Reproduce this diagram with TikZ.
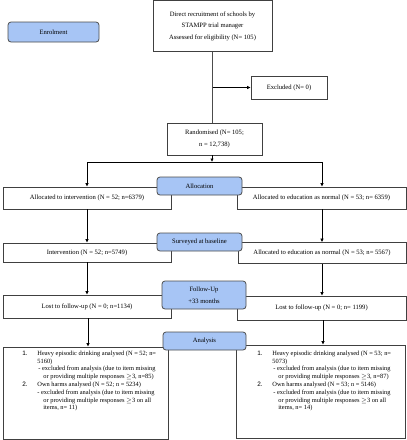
\documentclass[tikz,border=0pt]{standalone}
\usepackage{fontspec}
\setmainfont{Liberation Serif}
\newfontfamily\numfont{Liberation Sans}
\usetikzlibrary{arrows.meta}
\definecolor{stageblue}{HTML}{A7C5F5}
\begin{document}
\begin{tikzpicture}[x=1pt,y=-1pt,
	>={Latex[length=3.5pt,width=3.5pt]},
	every path/.style={line width=0.8pt},
	box/.style={draw=black!75, fill=white, inner sep=1pt, align=center, font=\fontsize{6.6}{11.5}\selectfont},
	stage/.style={draw=black!70, fill=stageblue, rounded corners=3pt, inner sep=1pt, align=center, font=\fontsize{6.6}{12}\selectfont},
	listtext/.style={inner sep=0pt, align=left, font=\fontsize{6.4}{7.8}\selectfont}]
		\useasboundingbox (0,0) rectangle (407,440);
		
		\node (recruit) at (212.5,26) [box, minimum width=119pt, minimum height=51pt] {Direct recruitment of schools by\\STAMPP trial manager\\Assessed for eligibility (N= 105)};
		\node (enrol) at (53.5,32) [stage, minimum width=91pt, minimum height=20pt] {Enrolment};
		\node (excl) at (289,87.5) [box, minimum width=76pt, minimum height=23pt] {Excluded (N= 0)};
		\node (rand) at (214.5,139) [box, minimum width=95pt, minimum height=32pt] {Randomised (N= 105;\\n = 12,738)};
		\coordinate (split) at (212,162);
		\coordinate (splitL) at (87,162);
		\coordinate (splitR) at (322,162);
		
		\node (allocL) at (87,198) [box, minimum width=168pt, minimum height=22pt] {Allocated to intervention (N = 52; n=6379)};
		\node (allocR) at (321.5,198) [box, minimum width=169pt, minimum height=22pt] {Allocated to education as normal (N = 53; n= 6359)};
		\node (survL) at (87,252.5) [box, minimum width=168pt, minimum height=19pt] {Intervention (N = 52; n=5749)};
		\node (survR) at (322,253) [box, minimum width=168pt, minimum height=21pt] {Allocated to education as normal (N = 53; n= 5567)};
		\node (lostL) at (87,306.5) [box, minimum width=168pt, minimum height=23pt] {Lost to follow-up (N = 0; n=1134)};
		\node (lostR) at (321.5,308) [box, minimum width=169pt, minimum height=24pt] {Lost to follow-up (N = 0; n= 1199)};
		\node (anaL) at (85.5,393) [box, minimum width=165pt, minimum height=92pt] {};
		\node (anaR) at (320.5,391.5) [box, minimum width=169pt, minimum height=93pt] {};
		
		\node (anaLtxt) at (22,350.5) [listtext, anchor=north west] {\makebox[15pt][l]{\numfont 1.}Heavy episodic drinking analysed (N = 52; n=\\
			\hspace*{15pt}5160)\\
			\hspace*{16pt}- excluded from analysis (due to item missing\\
			\hspace*{21pt}or providing multiple responses $\geq$3, n=85)\\
			\makebox[15pt][l]{\numfont 2.}Own harms analysed (N = 52; n = 5234)\\
			\hspace*{15pt}- excluded from analysis (due to item missing\\
			\hspace*{21pt}or providing multiple responses $\geq$3 on all\\
			\hspace*{21pt}items, n= 11)};
		\node (anaRtxt) at (257,350.5) [listtext, anchor=north west] {\makebox[15pt][l]{\numfont 1.}Heavy episodic drinking analysed (N = 53; n=\\
			\hspace*{15pt}5073)\\
			\hspace*{16pt}- excluded from analysis (due to item missing\\
			\hspace*{21pt}or providing multiple responses $\geq$3, n=87)\\
			\makebox[15pt][l]{\numfont 2.}Own harms analysed (N = 53; n = 5146)\\
			\hspace*{16pt}- excluded from analysis (due to item missing\\
			\hspace*{21pt}or providing multiple responses $\geq$3 on all\\
			\hspace*{21pt}items, n= 14)};
		
		\node (alloc) at (199.5,186) [stage, minimum width=85pt, minimum height=18pt] {Allocation};
		\node (surv) at (199.5,242) [stage, minimum width=85pt, minimum height=18pt] {Surveyed at baseline};
		\node (follow) at (204,295) [stage, minimum width=84pt, minimum height=28pt] {Follow-Up\\+33 months};
		\node (ana) at (204.5,341) [stage, minimum width=83pt, minimum height=18pt] {Analysis};
		
		\coordinate (exclturn) at (recruit.south |- excl.west);
		\draw [black!70, line width=1.1pt] (recruit.south) -- (recruit.south |- rand.north);
		\draw [->] (exclturn) -- (excl.west);
		\draw [->] (rand.south -| split) -- (split);
		\draw (splitL) -- (splitR);
		\draw [->] (splitL) -- (allocL.north);
		\draw [->] (splitR) -- (splitR |- allocR.north);
		\draw [->] (allocL.south) -- (survL.north);
		\draw [->] (allocR.south -| splitR) -- (splitR |- survR.north);
		\draw [->] (survL.south) -- (lostL.north);
		\draw [->] (survR.south -| splitR) -- (splitR |- lostR.north);
		\draw [->] (lostL.south -| 88,0) -- (88,0 |- anaL.north);
		\draw [->] (lostR.south -| 323,0) -- (323,0 |- anaR.north);
\end{tikzpicture}
\end{document}
